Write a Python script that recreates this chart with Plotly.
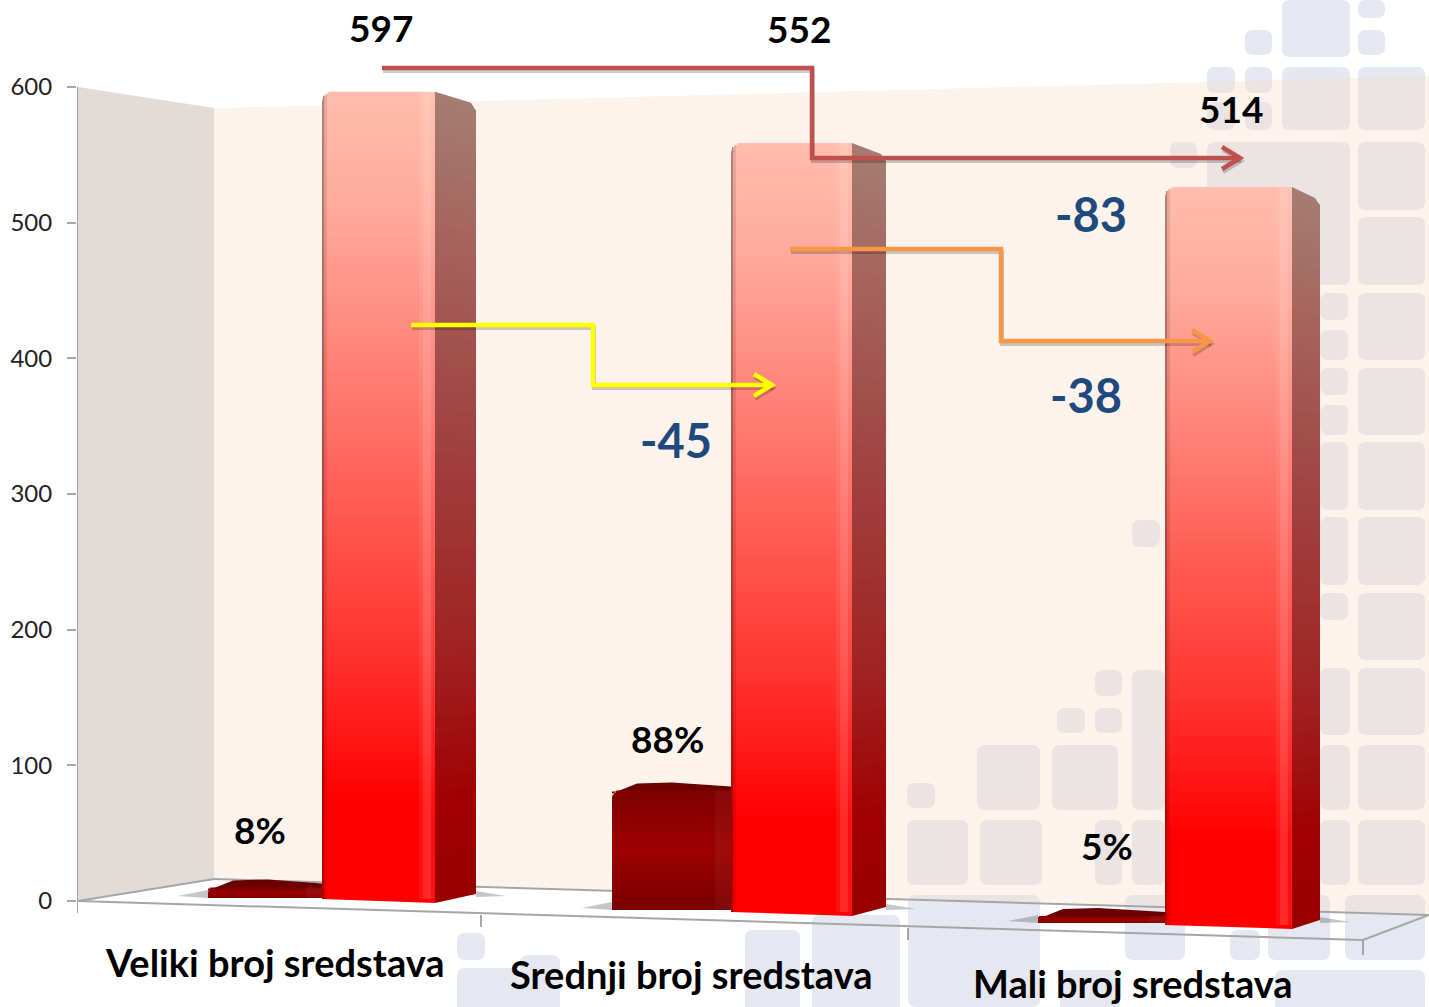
import math
import plotly.graph_objects as go

# ---- data ----
categories = ["Veliki broj sredstava", "Srednji broj sredstava", "Mali broj sredstava"]
share_pct = [8, 88, 5]
totals = [597, 552, 514]
deltas = [-45, -83, -38]
tick_values = [0, 100, 200, 300, 400, 500, 600]

# ---- geometry of the 3D perspective (screen px) ----
W, H = 1429, 1007
PX_PER_UNIT = 1.3567
Y0_PX = 901


def ay(py):
    return (Y0_PX - py) / PX_PER_UNIT


front_left = [322, 731, 1165]
front_right = [435, 852, 1292]
side_right = [476, 886, 1320]
floor_py = [899, 912, 925]
persp_scale = [1.352, 1.393, 1.436]
dark_left = [208, 612, 1038]
dark_floor = [898, 910, 923]
DARK_FACTOR = 0.975


def hexrgb(h):
    return tuple(int(h[i:i + 2], 16) for i in (1, 3, 5))


def grad(stops, t):
    for (t0, c0), (t1, c1) in zip(stops, stops[1:]):
        if t <= t1:
            f = (t - t0) / (t1 - t0) if t1 > t0 else 0
            a, b = hexrgb(c0), hexrgb(c1)
            return tuple(a[i] + (b[i] - a[i]) * f for i in range(3))
    return hexrgb(stops[-1][1])


def tint(c, k):
    if k >= 0:
        c = tuple(v + (255 - v) * k for v in c)
    else:
        c = tuple(v * (1 + k) for v in c)
    return "rgb(%d,%d,%d)" % tuple(round(v) for v in c)


FRONT = [(0, "#FFBDAD"), (0.15, "#FFA99B"), (0.42, "#FF6F65"), (0.69, "#FF3430"), (0.88, "#FF0000"), (1, "#FF0000")]
SIDE = [(0, "#A57D72"), (0.15, "#A5685F"), (0.42, "#A04242"), (0.69, "#A02222"), (0.88, "#A00000"), (1, "#980000")]
DARK = [(0, "#7E0000"), (0.5, "#9E0000"), (1, "#780000")]

bx, bw, bbase, by, bcol = [], [], [], [], []


def add_front(x0, x1, top_py, base_py, stops, cols, radius):
    h = base_py - top_py
    r = min(radius, h * 0.5)
    edges = [top_py]
    while edges[-1] < top_py + r + 2:
        edges.append(edges[-1] + 2)
    while edges[-1] < base_py:
        edges.append(min(edges[-1] + 5, base_py))
    for ya, yb in zip(edges, edges[1:]):
        mid = (ya + yb) / 2
        t = (mid - top_py) / h
        d = mid - top_py
        inset = r - math.sqrt(max(r * r - (r - d) ** 2, 0)) if d < r else 0
        base_c = grad(stops, t)
        # each slice overlaps the next one slightly so that no seams show
        yb2 = min(yb + 1.5, base_py)
        for ca, cb, k in cols:
            xa = x0 + ca if ca >= 0 else x1 + ca
            xb = x0 + cb if cb > 0 else x1 + cb
            xa = max(xa, x0 + inset)
            if xb <= xa:
                continue
            xb2 = min(xb + 1, x1)
            bx.append((xa + xb2) / 2)
            bw.append(xb2 - xa)
            bbase.append(ay(yb2))
            by.append(ay(ya) - ay(yb2))
            bcol.append(tint(base_c, k))


def poly(pts):
    return "M" + " L".join(f"{x:.2f},{ay(y):.3f}" for x, y in pts) + " Z"


def rrect(x0, y0, x1, y1, r=8):
    a = lambda x, y: f"{x:.2f},{ay(y):.3f}"
    return (f"M{a(x0 + r, y0)} L{a(x1 - r, y0)} Q{a(x1, y0)} {a(x1, y0 + r)} L{a(x1, y1 - r)} "
            f"Q{a(x1, y1)} {a(x1 - r, y1)} L{a(x0 + r, y1)} Q{a(x0, y1)} {a(x0, y1 - r)} "
            f"L{a(x0, y0 + r)} Q{a(x0, y0)} {a(x0 + r, y0)} Z")


shapes = []


def add_path(path, fill, line=None, width=0):
    s = dict(type="path", path=path, xref="x", yref="y", fillcolor=fill, layer="below",
             line=dict(width=width, color=line or "rgba(0,0,0,0)"))
    shapes.append(s)


def add_line(pts, color="#A6A6A6", width=2):
    add_path("M" + " L".join(f"{x:.2f},{ay(y):.3f}" for x, y in pts), "rgba(0,0,0,0)", color, width)


# ---- faint slide background: rounded squares ----
SQ = "rgb(230,232,241)"
squares = [
    (1282, 0, 1350, 57), (1358, 0, 1385, 18), (1358, 30, 1385, 55), (1245, 30, 1272, 55),
    (1207, 67, 1235, 93), (1245, 67, 1272, 93), (1207, 102, 1235, 130), (1245, 102, 1272, 130),
    (1282, 67, 1350, 130), (1358, 67, 1425, 130), (1170, 142, 1197, 168), (1207, 142, 1350, 285),
    (1358, 142, 1425, 210), (1358, 217, 1425, 285), (1320, 293, 1348, 320), (1320, 330, 1348, 360),
    (1358, 293, 1425, 360), (1320, 368, 1348, 395), (1320, 405, 1348, 435), (1358, 368, 1425, 435),
    (1320, 442, 1348, 510), (1358, 442, 1425, 510), (1320, 517, 1348, 585), (1358, 517, 1425, 585),
    (1132, 520, 1160, 547), (1320, 593, 1348, 620), (1358, 593, 1425, 660), (1320, 668, 1350, 735),
    (1358, 668, 1425, 735), (1095, 670, 1122, 696), (1057, 708, 1085, 733), (1095, 708, 1122, 733),
    (1132, 670, 1165, 810), (977, 745, 1040, 810), (1052, 745, 1118, 810), (1320, 745, 1350, 810),
    (1358, 745, 1425, 810), (907, 783, 935, 808), (907, 820, 968, 885), (980, 820, 1042, 885),
    (1095, 820, 1122, 885), (1132, 820, 1165, 885), (1320, 820, 1350, 885), (1358, 820, 1425, 885),
    (908, 895, 1040, 1007), (1125, 895, 1185, 960), (1230, 930, 1260, 960), (1268, 895, 1330, 960),
    (1345, 895, 1425, 960), (1275, 970, 1425, 1030), (1060, 970, 1120, 1030), (812, 915, 900, 1030),
    (745, 930, 800, 1030), (457, 933, 485, 960), (457, 968, 520, 1030), (520, 955, 560, 1030),
]
for x0, y0, x1, y1 in squares:
    add_path(rrect(x0, y0, x1, y1), SQ)

# ---- walls and floor ----
add_path(poly([(214, 108), (1429, 76), (1429, 914), (214, 878)]), "rgba(245,218,195,0.31)")
add_path(poly([(78, 87), (214, 108), (214, 880), (78, 901)]), "#E3DBD8")
add_line([(214, 879), (1429, 915)])
add_line([(78, 901), (214, 879)])
add_line([(68, 901), (78, 901)])
add_line([(77, 87), (77, 913)])
add_line([(78, 901), (1363, 940), (1429, 915)])
for tx, ty0, ty1 in [(481, 915, 927), (908, 928, 940), (1363, 940, 955)]:
    add_line([(tx, ty0), (tx, ty1)])

# ---- bars: values → projected screen positions ----
for i in range(3):
    xl, xr, xs = front_left[i], front_right[i], side_right[i]
    base = floor_py[i]
    top = base - totals[i] * persp_scale[i]
    dark_base = dark_floor[i]
    dark_top = dark_base - share_pct[i] * persp_scale[i] * DARK_FACTOR
    dl = dark_left[i]

    # floor shadows
    add_path(poly([(dl - 30, dark_base - 2), (dl, dark_base - 8), (dl, dark_base)]), "rgba(90,90,90,0.35)")
    add_path(poly([(xs, base - 8), (xs + 30, base - 3), (xs, base - 2)]), "rgba(90,90,90,0.35)")

    # side face of the tall bar
    n = 110
    for k in range(n):
        t0, t1 = k / n, (k + 1) / n
        yl0 = top + t0 * (base + 4 - top)
        yl1 = top + t1 * (base + 4 - top) + 1
        yr0 = top + 11 + t0 * (base - 5 - top - 11)
        yr1 = top + 11 + t1 * (base - 5 - top - 11) + 1
        if k == n - 1:
            yl1 -= 1
            yr1 -= 1
        ins0 = 5 if k == 0 else 0
        add_path(poly([(xr, yl0), (xs - ins0, yr0), (xs, yr1), (xr, yl1)]), tint(grad(SIDE, (t0 + t1) / 2), 0))
    add_path(poly([(xl, base), (xr, base), (xr, base + 4)]), "#FF0000")

    # top of the dark bar
    add_path(poly([(dl, dark_top + 3), (dl + 25, dark_top - 7), (dl + 60, dark_top - 8),
                   (xl, dark_top - 4), (xl, dark_top + 1), (dl, dark_top + 1)]), "#6A0000")

    add_front(dl, xl, dark_top, dark_base, DARK,
              [(0, -16, 0), (-16, -1, 0.04)], 8)
    add_front(xl, xr, top, base, FRONT,
              [(0, 2, -0.3), (2, 5, -0.1), (5, -16, 0), (-16, -12, 0.06), (-12, -4, 0.16), (-4, 0, 0.06)], 11)

fig = go.Figure()
fig.add_trace(go.Bar(x=bx, y=by, base=bbase, width=bw, marker=dict(color=bcol, line=dict(width=0)),
                     hoverinfo="skip", showlegend=False))

# ---- elbow connectors ----
connectors = [
    ("#FFFF00", [(411, 325), (593, 325), (593, 385), (772, 385)]),
    ("#C0504D", [(382, 68), (812, 68), (812, 158), (1240, 158)]),
    ("#F79646", [(790, 249), (1001, 249), (1001, 341), (1210, 341)]),
]
for color, pts in connectors:
    ex, ey = pts[-1]
    hx = [p[0] for p in pts] + [None, ex - 18, ex, ex - 18]
    hy = [ay(p[1]) for p in pts] + [None, ay(ey - 11), ay(ey), ay(ey + 11)]
    sx = [v + 1 if v is not None else None for v in hx]
    sy = [v - 3 / PX_PER_UNIT if v is not None else None for v in hy]
    fig.add_trace(go.Scatter(x=sx, y=sy, mode="lines", line=dict(color="rgba(0,0,0,0.2)", width=4),
                             hoverinfo="skip", showlegend=False))
    fig.add_trace(go.Scatter(x=hx, y=hy, mode="lines", line=dict(color=color, width=4.5),
                             hoverinfo="skip", showlegend=False))

# ---- text ----
FONT = "Lato"
annotations = []


def label(txt, x, y, size, color="#000000"):
    annotations.append(dict(x=x, y=ay(y), xref="x", yref="y", text=f"<b>{txt}</b>", showarrow=False,
                            xanchor="center", yanchor="middle",
                            font=dict(family=FONT, size=size, color=color)))


for t, (x, y) in zip(totals, [(381, 27), (799, 28), (1231, 108)]):
    label(str(t), x, y, 37)
for t, (x, y) in zip(share_pct, [(260, 829), (667, 738), (1107, 845)]):
    label(f"{t}%", x, y, 37)
for t, (x, y) in zip(deltas, [(676, 440), (1091, 214), (1086, 395)]):
    label(str(t), x, y, 47, "#1F497D")
for t, (x, y) in zip(categories, [(275, 962), (691, 974), (1133, 983)]):
    label(t, x, y, 38)

fig.update_layout(
    width=W, height=H, autosize=False, margin=dict(l=0, r=0, t=0, b=0),
    paper_bgcolor="#FFFFFF", plot_bgcolor="rgba(0,0,0,0)", barmode="overlay", showlegend=False,
    shapes=shapes, annotations=annotations,
    xaxis=dict(domain=[77 / W, 1], range=[77, W], visible=False, fixedrange=True),
    yaxis=dict(domain=[0, 1], range=[ay(H), ay(0)], tickmode="array", tickvals=tick_values,
               ticks="outside", ticklen=9, tickwidth=2, tickcolor="#A6A6A6", showgrid=False,
               zeroline=False, showline=False, ticklabelstandoff=10, fixedrange=True,
               tickfont=dict(family=FONT, size=24, color="#222222")),
)
fig.write_html("out.html", config={"displayModeBar": False},
               post_script="document.body.style.margin='0';document.body.style.overflow='hidden';")
